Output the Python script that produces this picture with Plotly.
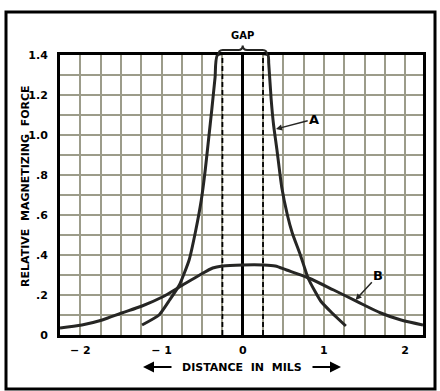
import plotly.graph_objects as go

# Curve A: narrow-gap head, relative magnetizing force vs distance (mils)
a_x = [-1.24, -1.03, -0.90, -0.78, -0.66, -0.58, -0.51, -0.46, -0.42, -0.38, -0.34, -0.31,
       0.31, 0.32, 0.35, 0.38, 0.42, 0.48, 0.55, 0.61, 0.71, 0.81, 0.96, 1.10, 1.27]
a_y = [0.05, 0.10, 0.175, 0.25, 0.375, 0.52, 0.675, 0.83, 0.98, 1.13, 1.29, 1.40,
       1.40, 1.36, 1.18, 1.05, 0.93, 0.74, 0.60, 0.51, 0.40, 0.28, 0.17, 0.11, 0.045]

# Curve B: broad response
b_x = [-2.25, -1.98, -1.73, -1.49, -1.24, -0.99, -0.78, -0.53, -0.37, -0.25, 0.0, 0.25, 0.40,
       0.54, 0.81, 1.12, 1.41, 1.70, 1.95, 2.22]
b_y = [0.035, 0.05, 0.075, 0.11, 0.145, 0.19, 0.24, 0.30, 0.335, 0.345, 0.35, 0.35, 0.345,
       0.325, 0.285, 0.225, 0.167, 0.11, 0.075, 0.05]

# Gap edges (dashed) and extent of the gap brace
gap_edges = [-0.25, 0.25]
gap_brace = [-0.30, 0.30]

x_ticks = [-2, -1, 0, 1, 2]
x_tick_text = ["− 2", "− 1", "0", "1", "2"]
y_ticks = [0, 0.2, 0.4, 0.6, 0.8, 1.0, 1.2, 1.4]
y_tick_text = ["0", ".2", ".4", ".6", ".8", "1.0", "1.2", "1.4"]

x_range = [-2.25, 2.22]
y_range = [0, 1.4]

ink = "#262624"
grid = "#9c9c8a"
bold = dict(family="DejaVu Sans", size=11, color="black", weight="bold")

# plot area in pixels: left 60, right 423, top 55, bottom 335
def px_x(p):
    return (p - 60) / 363

def px_y(p):
    return (335 - p) / 280

fig = go.Figure()

for gx in gap_edges:
    fig.add_trace(go.Scatter(x=[gx, gx], y=y_range, mode="lines",
                             line=dict(color="black", width=1.8, dash="5px,3px"),
                             hoverinfo="skip", showlegend=False))

fig.add_trace(go.Scatter(x=b_x, y=b_y, mode="lines",
                         line=dict(color=ink, width=3, shape="spline", smoothing=0.8),
                         showlegend=False))
fig.add_trace(go.Scatter(x=a_x, y=a_y, mode="lines",
                         line=dict(color=ink, width=3, shape="spline", smoothing=0.5),
                         showlegend=False))

def xp(v):
    return (v - x_range[0]) / (x_range[1] - x_range[0])

# Curly brace over the gap
x0, x1 = xp(gap_brace[0]), xp(gap_brace[1])
xc = (x0 + x1) / 2
d = 0.012
yl, ym, yt = 1.0, 1.018, 1.034
brace = (f"M {x0},{yl} Q {x0},{ym} {x0 + d},{ym} L {xc - d},{ym} Q {xc},{ym} {xc},{yt} "
         f"Q {xc},{ym} {xc + d},{ym} L {x1 - d},{ym} Q {x1},{ym} {x1},{yl}")

title_font = dict(family="DejaVu Sans", size=11, color="black", weight="bold")

fig.update_layout(
    width=440, height=391,
    margin=dict(l=60, r=17, t=55, b=56),
    paper_bgcolor="white", plot_bgcolor="white",
    xaxis=dict(range=x_range, tickvals=x_ticks, ticktext=x_tick_text,
               showgrid=True, gridcolor=grid, gridwidth=2,
               minor=dict(dtick=0.25, tick0=0, showgrid=True, gridcolor=grid, gridwidth=2),
               zeroline=True, zerolinecolor="black", zerolinewidth=2.5,
               showline=True, linecolor="black", linewidth=3, mirror=True,
               ticks="", ticklabelstandoff=3, tickfont=bold),
    yaxis=dict(range=y_range, tickvals=y_ticks, ticktext=y_tick_text,
               showgrid=True, gridcolor=grid, gridwidth=2,
               minor=dict(dtick=0.1, tick0=0, showgrid=True, gridcolor=grid, gridwidth=2),
               zeroline=False,
               showline=True, linecolor="black", linewidth=3, mirror=True,
               ticks="", ticklabelstandoff=7, tickfont=bold),
    shapes=[
        dict(type="path", xref="paper", yref="paper", path=brace,
             line=dict(color=ink, width=2)),
        dict(type="rect", xref="paper", yref="paper",
             x0=px_x(6), x1=px_x(435), y0=px_y(389), y1=px_y(12),
             line=dict(color="black", width=3)),
    ],
    annotations=[
        dict(text="GAP", x=0, xref="x", y=px_y(35), yref="paper", showarrow=False,
             xanchor="center", yanchor="middle",
             font=dict(family="DejaVu Sans", size=10, color="black", weight="bold")),
        dict(text="A", x=0.41, y=1.03, xref="x", yref="y", ax=0.88, ay=1.08,
             axref="x", ayref="y", showarrow=True, arrowhead=2, arrowsize=0.8,
             arrowwidth=1.5, arrowcolor=ink,
             font=dict(family="DejaVu Sans", size=13, color="black", weight="bold")),
        dict(text="B", x=1.39, y=0.175, xref="x", yref="y", ax=1.67, ay=0.30,
             axref="x", ayref="y", showarrow=True, arrowhead=2, arrowsize=0.8,
             arrowwidth=1.5, arrowcolor=ink,
             font=dict(family="DejaVu Sans", size=13, color="black", weight="bold")),
        dict(text="RELATIVE  MAGNETIZING  FORCE", textangle=-90,
             x=px_x(25), xref="paper", y=px_y(186), yref="paper",
             xanchor="center", yanchor="middle", showarrow=False, font=title_font),
        dict(text="DISTANCE  IN  MILS",
             x=px_x(242), xref="paper", y=px_y(367), yref="paper",
             xanchor="center", yanchor="middle", showarrow=False, font=title_font),
        # direction arrows either side of the x title
        dict(text="", x=px_x(143), y=px_y(367), xref="paper", yref="paper",
             ax=30, ay=0, showarrow=True, arrowhead=2, arrowsize=1.1,
             arrowwidth=2, arrowcolor="black"),
        dict(text="", x=px_x(341), y=px_y(367), xref="paper", yref="paper",
             ax=-30, ay=0, showarrow=True, arrowhead=2, arrowsize=1.1,
             arrowwidth=2, arrowcolor="black"),
    ],
)

fig.write_html("out.html")
